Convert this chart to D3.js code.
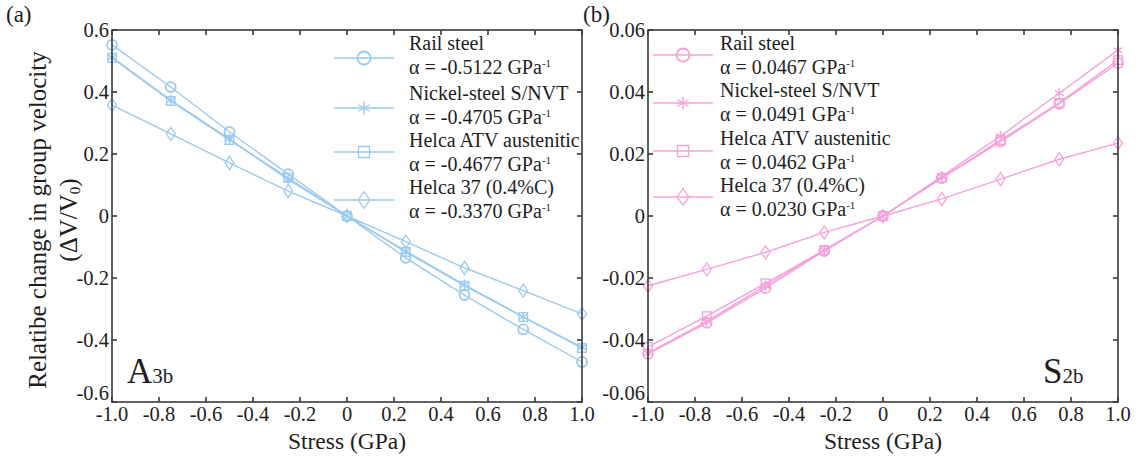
<!DOCTYPE html>
<html>
<head>
<meta charset="utf-8">
<script src="https://cdn.jsdelivr.net/npm/d3@7.9.0/dist/d3.min.js"></script>
<style>
  body { margin: 0; background: #fff; }
  text { font-family: "Liberation Serif", "Times New Roman", Times, "DejaVu Serif", serif; }
</style>
</head>
<body>
<svg width="1140" height="456"></svg>
<script>
// stress values (GPa)
const stress = [-1.0, -0.75, -0.5, -0.25, 0, 0.25, 0.5, 0.75, 1.0];

const materials = ["Rail steel", "Nickel-steel S/NVT", "Helca ATV austenitic", "Helca 37 (0.4%C)"];
const symbols = ["circle", "star", "square", "diamond"];

// (a) A3b mode
const alphaA = ["-0.5122", "-0.4705", "-0.4677", "-0.3370"];
const railA    = [0.552, 0.416, 0.271, 0.135, 0, -0.135, -0.255, -0.366, -0.471];
const nickelA  = [0.512, 0.374, 0.248, 0.117, 0, -0.113, -0.222, -0.325, -0.424];
const atvA     = [0.510, 0.371, 0.245, 0.123, 0, -0.116, -0.225, -0.326, -0.426];
const helca37A = [0.358, 0.265, 0.171, 0.080, 0, -0.083, -0.167, -0.241, -0.316];

// (b) S2b mode
const alphaB = ["0.0467", "0.0491", "0.0462", "0.0230"];
const railB    = [-0.0445, -0.0345, -0.0232, -0.0113, 0, 0.0122, 0.0240, 0.0362, 0.0493];
const nickelB  = [-0.0442, -0.0340, -0.0225, -0.0110, 0, 0.0128, 0.0258, 0.0396, 0.0535];
const atvB     = [-0.0422, -0.0323, -0.0217, -0.0110, 0, 0.0123, 0.0245, 0.0365, 0.0503];
const helca37B = [-0.0225, -0.0172, -0.0117, -0.0053, 0, 0.0055, 0.0119, 0.0183, 0.0235];

const xTicks = [-1.0, -0.8, -0.6, -0.4, -0.2, 0, 0.2, 0.4, 0.6, 0.8, 1.0];
const yTicksA = [-0.6, -0.4, -0.2, 0, 0.2, 0.4, 0.6];
const yTicksB = [-0.06, -0.04, -0.02, 0, 0.02, 0.04, 0.06];

const svg = d3.select("svg");
const axisColor = "#3a3a3a";
const textColor = "#1e1e1e";

function marker(sel, type, s, color) {
    if (type === "circle") {
        sel.append("circle").attr("r", s).attr("fill", "none")
            .attr("stroke", color).attr("stroke-width", 1.8);
    } else if (type === "square") {
        const h = s * 0.85;
        sel.append("rect").attr("x", -h).attr("y", -h)
            .attr("width", 2 * h).attr("height", 2 * h)
            .attr("fill", "none").attr("stroke", color).attr("stroke-width", 1.4);
    } else if (type === "diamond") {
        const w = s * 0.9;
        sel.append("path").attr("d", `M0,${-s * 1.3}L${w},0L0,${s * 1.3}L${-w},0Z`)
            .attr("fill", "none").attr("stroke", color).attr("stroke-width", 1.3);
    } else {
        // asterisk
        let d = `M0,${-s}V${s}`;
        [30, 150].forEach(a => {
            const r = a * Math.PI / 180;
            d += `M${-s * Math.cos(r)},${-s * Math.sin(r)}L${s * Math.cos(r)},${s * Math.sin(r)}`;
        });
        sel.append("path").attr("d", d).attr("stroke", color).attr("stroke-width", 1.4);
    }
}

function drawPanel(o) {
    const x = d3.scaleLinear().domain([-1, 1]).range([o.left, o.right]);
    const y = d3.scaleLinear().domain([o.yTicks[0], o.yTicks[o.yTicks.length - 1]]).range([402, 30]);
    const g = svg.append("g");

    // series
    o.series.forEach((vals, i) => {
        const pts = stress.map((s, j) => [s, vals[j]]);
        g.append("path").datum(pts)
            .attr("d", d3.line().x(d => x(d[0])).y(d => y(d[1])))
            .attr("fill", "none").attr("stroke", o.color).attr("stroke-width", 1.4);
        g.selectAll(null).data(pts).enter().append("g")
            .attr("transform", d => `translate(${x(d[0])},${y(d[1])})`)
            .each(function() { marker(d3.select(this), symbols[i], 5, o.color); });
    });

    // frame and ticks (inward, mirrored)
    const ax = g.append("g").attr("stroke", axisColor).attr("stroke-width", 1.6);
    ax.append("rect").attr("x", o.left).attr("y", 30).attr("width", o.right - o.left).attr("height", 372).attr("fill", "none");
    const tl = 5;
    xTicks.forEach(t => {
        ax.append("line").attr("x1", x(t)).attr("x2", x(t)).attr("y1", 402).attr("y2", 402 - tl);
        ax.append("line").attr("x1", x(t)).attr("x2", x(t)).attr("y1", 30).attr("y2", 30 + tl);
    });
    o.yTicks.forEach(t => {
        ax.append("line").attr("x1", o.left).attr("x2", o.left + tl).attr("y1", y(t)).attr("y2", y(t));
        ax.append("line").attr("x1", o.right).attr("x2", o.right - tl).attr("y1", y(t)).attr("y2", y(t));
    });

    // tick labels
    g.selectAll(null).data(xTicks).enter().append("text")
        .attr("x", d => x(d)).attr("y", 421).attr("text-anchor", "middle")
        .attr("font-size", 20.5).attr("fill", textColor)
        .text(d => d === 0 ? "0" : d.toFixed(1));
    g.selectAll(null).data(o.yTicks).enter().append("text")
        .attr("x", o.left - 3).attr("y", (d, i) => i === 0 ? 400 : y(d) + 7).attr("text-anchor", "end")
        .attr("font-size", 20.5).attr("fill", textColor)
        .text(d => d === 0 ? "0" : d.toFixed(o.dec));

    g.append("text").attr("x", (o.left + o.right) / 2).attr("y", 449)
        .attr("text-anchor", "middle").attr("font-size", 23.5).attr("fill", textColor)
        .text("Stress (GPa)");

    // panel letter
    g.append("text").attr("x", o.tagX).attr("y", 22).attr("font-size", 23).attr("fill", textColor).text(o.tag);

    // mode label
    const ml = g.append("text").attr("x", o.modeX).attr("y", 383).attr("fill", textColor);
    ml.append("tspan").attr("font-size", 35).text(o.mode[0]);
    ml.append("tspan").attr("font-size", 21).text(o.mode[1]);

    // legend
    o.legY.forEach((ly, i) => {
        g.append("line").attr("x1", o.legX).attr("x2", o.legX + 60)
            .attr("y1", ly).attr("y2", ly).attr("stroke", o.color).attr("stroke-width", 1.4);
        const m = g.append("g").attr("transform", `translate(${o.legX + 30},${ly})`);
        marker(m, symbols[i], 6.5, o.color);
        const top = o.textY[i];
        g.append("text").attr("x", o.textX).attr("y", top).attr("font-size", 20).attr("fill", textColor).text(materials[i]);
        const t2 = g.append("text").attr("x", o.textX).attr("y", top + 23.5).attr("font-size", 20).attr("fill", textColor);
        t2.append("tspan").text(`\u03b1 = ${o.alpha[i]} GPa`);
        t2.append("tspan").attr("font-size", 11).attr("dy", -7).text("-1");
    });
}

drawPanel({
    left: 112, right: 582, yTicks: yTicksA, dec: 1, color: "#9ccaee",
    series: [railA, nickelA, atvA, helca37A], alpha: alphaA,
    tag: "(a)", tagX: 6, mode: ["A", "3b"], modeX: 127,
    legX: 334, legY: [58, 108, 152, 200], textX: 409, textY: [50, 100, 147, 194]
});

drawPanel({
    left: 648, right: 1118, yTicks: yTicksB, dec: 2, color: "#f5a2da",
    series: [railB, nickelB, atvB, helca37B], alpha: alphaB,
    tag: "(b)", tagX: 583, mode: ["S", "2b"], modeX: 1043,
    legX: 653, legY: [55, 103, 151, 197], textX: 720, textY: [50, 97, 145, 192]
});

// y axis title (left panel only)
svg.append("text").attr("transform", "translate(46,220) rotate(-90)")
    .attr("text-anchor", "middle").attr("font-size", 25).attr("fill", textColor)
    .text("Relatibe change in group velocity");
const yt2 = svg.append("text").attr("transform", "translate(77,220) rotate(-90)")
    .attr("text-anchor", "middle").attr("font-size", 25).attr("fill", textColor);
yt2.append("tspan").text("(\u0394V/V");
yt2.append("tspan").attr("font-size", 15).attr("dy", 3).text("0");
yt2.append("tspan").attr("dy", -3).text(")");
</script>
</body>
</html>
